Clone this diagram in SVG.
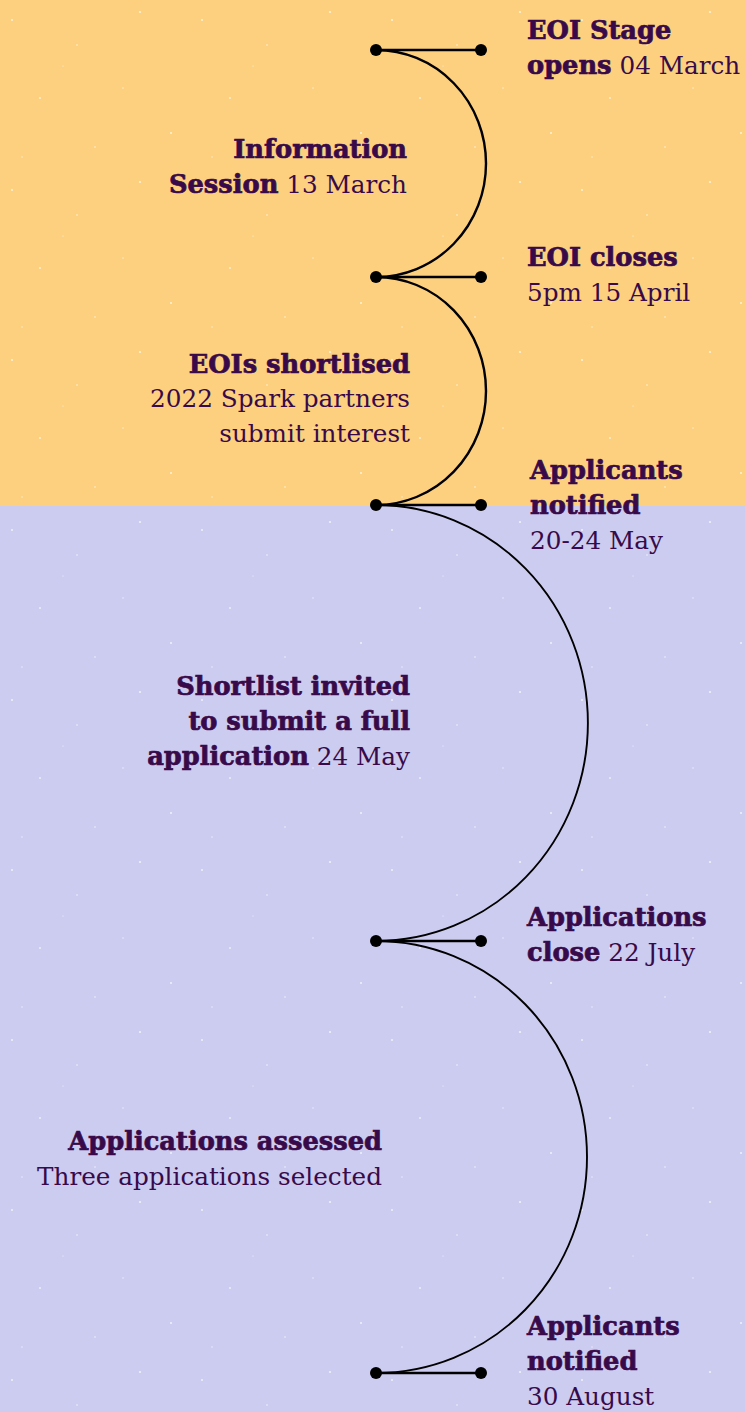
<svg xmlns="http://www.w3.org/2000/svg" width="745" height="1412" viewBox="0 0 745 1412">
<style>
text{font-family:"DejaVu Serif","Liberation Serif",serif;font-size:24.7px;fill:#380A49}
.b{font-weight:bold;font-size:25.7px;stroke:#380A49;stroke-width:0.7px}
.r{text-anchor:end}
.arc{fill:none;stroke:#000;stroke-width:2.4}
.arc2{fill:none;stroke:#000;stroke-width:1.9}
.bar{stroke:#000;stroke-width:2.6}
.dot{fill:#000}
</style>
<defs>
<pattern id="speck" width="190" height="170" patternUnits="userSpaceOnUse">
<g fill="#fff" opacity="0.7">
<circle cx="12" cy="20" r="1"/><circle cx="77" cy="45" r="0.8"/><circle cx="140" cy="12" r="1.1"/>
<circle cx="40" cy="98" r="0.9"/><circle cx="123" cy="88" r="0.7"/><circle cx="171" cy="133" r="1"/>
<circle cx="95" cy="147" r="0.8"/><circle cx="22" cy="157" r="0.7"/><circle cx="63" cy="66" r="0.6"/>
</g>
</pattern>
</defs>
<g id="background">
<rect x="0" y="0" width="745" height="506" fill="#FDD07F"/>
<rect x="0" y="506" width="745" height="906" fill="#CCCCF1"/>
<rect x="0" y="0" width="745" height="1412" fill="url(#speck)"/>
</g>
<g id="connectors">
<path class="arc" d="M376,50 A110,113.5 0 0 1 376,277"/>
<path class="arc" d="M376,277 A110,114 0 0 1 376,505"/>
<path class="arc2" d="M376,505 A212,218 0 0 1 376,941"/>
<path class="arc2" d="M376,941 A211,216 0 0 1 376,1373"/>
</g>
<g id="n1">
<line class="bar" x1="376" y1="50" x2="481" y2="50"/><circle class="dot" cx="376" cy="50" r="6"/><circle class="dot" cx="481" cy="50" r="6"/>
<text x="527" y="39" class="b">EOI Stage</text>
<text x="527" y="74"><tspan class="b">opens</tspan> 04 March</text>
</g>
<g id="n2">
<text x="407" y="158" class="b r">Information</text>
<text x="407" y="193" class="r"><tspan class="b">Session</tspan> 13 March</text>
</g>
<g id="n3">
<line class="bar" x1="376" y1="277" x2="481" y2="277"/><circle class="dot" cx="376" cy="277" r="6"/><circle class="dot" cx="481" cy="277" r="6"/>
<text x="527" y="266" class="b">EOI closes</text>
<text x="527" y="301">5pm 15 April</text>
</g>
<g id="n4">
<text x="410" y="373" class="b r">EOIs shortlised</text>
<text x="410" y="407" class="r">2022 Spark partners</text>
<text x="410" y="442" class="r">submit interest</text>
</g>
<g id="n5">
<line class="bar" x1="376" y1="505" x2="481" y2="505"/><circle class="dot" cx="376" cy="505" r="6"/><circle class="dot" cx="481" cy="505" r="6"/>
<text x="530" y="479" class="b">Applicants</text>
<text x="530" y="514" class="b">notified</text>
<text x="530" y="549">20-24 May</text>
</g>
<g id="n6">
<text x="410" y="695" class="b r">Shortlist invited</text>
<text x="410" y="730" class="b r">to submit a full</text>
<text x="410" y="765" class="r"><tspan class="b">application</tspan> 24 May</text>
</g>
<g id="n7">
<line class="bar" x1="376" y1="941" x2="481" y2="941"/><circle class="dot" cx="376" cy="941" r="6"/><circle class="dot" cx="481" cy="941" r="6"/>
<text x="527" y="926" class="b">Applications</text>
<text x="527" y="961"><tspan class="b">close</tspan> 22 July</text>
</g>
<g id="n8">
<text x="382" y="1150" class="b r">Applications assessed</text>
<text x="382" y="1185" class="r">Three applications selected</text>
</g>
<g id="n9">
<line class="bar" x1="376" y1="1373" x2="481" y2="1373"/><circle class="dot" cx="376" cy="1373" r="6"/><circle class="dot" cx="481" cy="1373" r="6"/>
<text x="527" y="1335" class="b">Applicants</text>
<text x="527" y="1370" class="b">notified</text>
<text x="527" y="1405">30 August</text>
</g>
</svg>
